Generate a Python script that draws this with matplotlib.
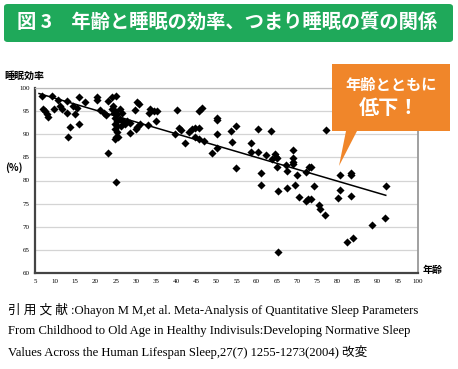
import matplotlib.pyplot as plt
import numpy as np
from matplotlib.patches import FancyBboxPatch, Polygon

plt.rcParams['font.family'] = ['Noto Sans CJK JP', 'DejaVu Sans']

# data (age, sleep efficiency %)
age = [6.7, 9.2, 7.1, 7.5, 7.9, 8.3, 9.6, 10.8, 11.2, 11.6, 12.9, 12.9,
       15.8, 14.5, 15.4, 15.0, 15.8, 13.7, 13.3, 17.4, 20.3, 20.3, 21.2, 22.0,
       22.7, 23.2, 23.2, 24.1, 25.1,
       24.1, 24.5, 24.9, 25.3, 24.9, 25.3, 24.9, 25.4, 24.9, 25.3, 25.1, 24.9,
       25.7, 26.1, 26.6, 26.1, 26.9, 26.3, 27.4, 24.3, 25.1,
       27.8, 28.6, 28.6, 30.1, 30.3, 30.7, 29.9, 31.1, 30.3, 33.0, 33.6, 34.4,
       35.3, 33.2, 34.9,
       40.2, 40.6, 41.1, 39.8, 42.3, 43.1, 44.0, 44.8, 45.6, 44.8, 45.6, 46.9,
       45.6, 46.4, 49.0, 50.2, 50.2, 50.2, 50.2,
       53.5, 54.8, 53.9, 54.8, 60.3, 63.6, 58.5, 58.5, 60.2, 62.2, 64.5, 64.7,
       63.9, 65.1, 65.0, 61.1, 61.0, 67.2, 67.6, 69.1, 69.1, 69.1, 69.1, 70.1,
       72.2, 73.0, 65.3, 67.6, 69.4, 74.2, 70.5, 72.2, 72.7, 75.5, 75.7, 76.9,
       77.1, 73.4, 73.4, 80.6, 83.4, 83.4, 80.6, 80.2, 83.4, 92.1, 91.8, 88.5,
       83.8, 82.4, 65.3]
eff = [98.3, 98.3, 95.4, 95.1, 94.3, 93.8, 95.4, 97.4, 96.2, 95.4, 97.2, 94.7,
       98.0, 96.2, 95.7, 94.3, 92.3, 91.6, 89.5, 96.9, 98.1, 97.4, 95.2, 94.7,
       94.2, 85.9, 97.2, 98.0, 98.3,
       95.4, 94.7, 95.0, 94.3, 93.6, 92.9, 92.2, 91.8, 91.1, 90.4, 89.5, 88.9,
       89.3, 95.4, 94.6, 93.3, 92.9, 91.8, 92.2, 96.1, 79.7,
       92.9, 92.5, 90.2, 91.2, 96.9, 96.5, 95.2, 92.2, 91.5, 92.0, 95.4, 95.1,
       95.1, 94.5, 92.9,
       95.2, 91.3, 90.9, 90.0, 88.2, 90.4, 91.1, 91.3, 91.3, 89.3, 88.9, 88.5,
       95.1, 95.7, 86.0, 93.6, 93.0, 90.0, 87.1,
       90.6, 91.8, 88.4, 82.6, 91.1, 90.7, 88.1, 86.2, 86.2, 85.5, 85.8, 85.1,
       84.6, 84.8, 82.9, 81.7, 79.1, 83.3, 82.0, 86.5, 84.8, 84.1, 83.5, 81.2,
       81.9, 82.9, 77.7, 78.4, 79.1, 78.8, 76.5, 75.5, 76.0, 74.6, 73.8, 72.6,
       90.9, 82.9, 76.1, 81.1, 81.7, 81.1, 77.9, 76.2, 76.7, 78.9, 72.0, 70.3,
       67.5, 66.6, 64.6]
trend_age = [6.0, 92.0]
trend_eff = [98.8, 76.8]

title = "図 3　年齢と睡眠の効率、つまり睡眠の質の関係"
ref_lines = ["引 用 文 献 :Ohayon M M,et al. Meta-Analysis of Quantitative Sleep Parameters",
             "From Childhood to Old Age in Healthy Indivisuls:Developing Normative Sleep",
             "Values Across the Human Lifespan Sleep,27(7) 1255-1273(2004) 改変"]

W, H = 458, 369
fig = plt.figure(figsize=(W / 100, H / 100), dpi=100)

# green banner
fig.patches.append(FancyBboxPatch((4 / W, 1 - 42 / H), 449 / W, 38 / H,
                                  boxstyle="round,pad=0,rounding_size=0.008",
                                  transform=fig.transFigure, fc='#1fa95a', ec='none'))
fig.text(227 / W, 1 - 23 / H, title, color='white', fontsize=13.9, fontweight='bold',
         ha='center', va='center')

ax = fig.add_axes([35 / W, 1 - 273 / H, 383 / W, 185 / H])
ax.scatter(age, eff, marker='D', s=17, color='black', zorder=3, linewidths=0)
ax.plot(trend_age, trend_eff, color='black', lw=1.1, zorder=2)
ax.set_xlim(5, 100)
ax.set_ylim(60, 100)
ax.set_xticks(np.arange(5, 101, 5))
ax.set_yticks(np.arange(60, 101, 5))
ax.yaxis.grid(True, color='#d4d4d4', lw=0.9)
ax.set_axisbelow(True)
ax.tick_params(length=0, labelsize=5, pad=4)
for lab in ax.get_xticklabels() + ax.get_yticklabels():
    lab.set_family('Liberation Serif')
ax.spines['left'].set_color('#444444')
ax.spines['left'].set_linewidth(1.6)
ax.spines['bottom'].set_color('#444444')
ax.spines['bottom'].set_linewidth(1.6)
ax.spines['right'].set_color('#999999')
ax.spines['right'].set_linewidth(1.3)
ax.spines['top'].set_color('#bbbbbb')
ax.spines['top'].set_linewidth(0.9)

fig.text(4 / W, 1 - 76 / H, "睡眠効率", fontsize=7.2, fontweight='bold', va='center')
fig.text(5 / W, 1 - 168 / H, "(%)", fontsize=7.2, fontweight='bold', va='center')
fig.text(423 / W, 1 - 270 / H, "年齢", fontsize=7.2, fontweight='bold', va='center')

# orange callout
orange = '#f0862a'
fig.patches.append(Polygon([(332 / W, 1 - 64 / H), (450 / W, 1 - 64 / H),
                            (450 / W, 1 - 131 / H), (357 / W, 1 - 131 / H),
                            (339 / W, 1 - 166 / H), (346 / W, 1 - 131 / H),
                            (332 / W, 1 - 131 / H)],
                           closed=True, transform=fig.transFigure, fc=orange, ec='none'))
fig.text(391 / W, 1 - 85 / H, "年齢とともに", color='white', fontsize=11, fontweight='bold',
         ha='center', va='center')
fig.text(389 / W, 1 - 108 / H, "低下！", color='white', fontsize=14.5, fontweight='bold',
         ha='center', va='center')

for i, line in enumerate(ref_lines):
    fig.text(8 / W, 1 - (310 + 20.8 * i) / H, line, fontsize=9.1, va='center',
             family=['Liberation Serif', 'Noto Sans CJK JP'])

fig.savefig('out.png', dpi=100)
